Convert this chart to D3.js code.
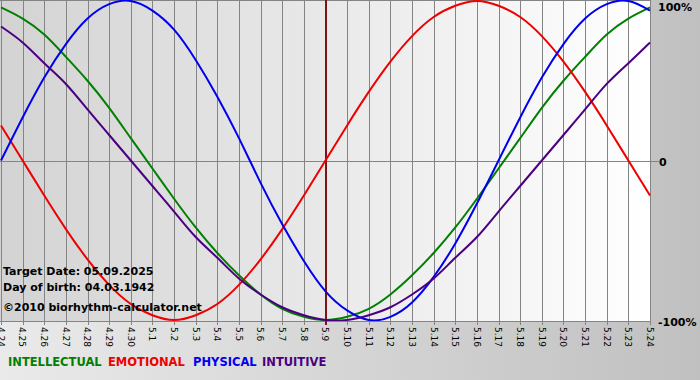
<!DOCTYPE html>
<html>
<head>
<meta charset="utf-8">
<script src="https://cdn.jsdelivr.net/npm/d3@7"></script>
<style>
  body { margin: 0; padding: 0; }
  svg { display: block; }
</style>
</head>
<body>
<svg id="chart" width="700" height="380"></svg>
<script>
// day labels, 4.24 .. 5.24
var days = ["4.24", "4.25", "4.26", "4.27", "4.28", "4.29", "4.30",
    "5.1", "5.2", "5.3", "5.4", "5.5", "5.6", "5.7", "5.8", "5.9", "5.10",
    "5.11", "5.12", "5.13", "5.14", "5.15", "5.16", "5.17", "5.18", "5.19",
    "5.20", "5.21", "5.22", "5.23", "5.24"];

// values, -1 .. 1
var intellectual = [0.96, 0.89, 0.79, 0.65, 0.50, 0.33, 0.14, -0.05, -0.24, -0.42, -0.58,
    -0.72, -0.84, -0.93, -0.98, -1.00, -0.98, -0.93, -0.84, -0.72, -0.58,
    -0.42, -0.24, -0.05, 0.14, 0.33, 0.50, 0.65, 0.79, 0.89, 0.96];
var emotional = [0.22, 0.00, -0.22, -0.43, -0.62, -0.78, -0.90, -0.97, -1.00, -0.97, -0.90,
    -0.78, -0.62, -0.43, -0.22, 0.00, 0.22, 0.43, 0.62, 0.78, 0.90,
    0.97, 1.00, 0.97, 0.90, 0.78, 0.62, 0.43, 0.22, 0.00, -0.22];
var physical = [0.00, 0.27, 0.52, 0.73, 0.89, 0.98, 1.00, 0.94, 0.82, 0.63, 0.40,
    0.14, -0.14, -0.40, -0.63, -0.82, -0.94, -1.00, -0.98, -0.89, -0.73,
    -0.52, -0.27, 0.00, 0.27, 0.52, 0.73, 0.89, 0.98, 1.00, 0.94];
var intuitive = [0.84, 0.74, 0.61, 0.48, 0.32, 0.16, 0.00, -0.16, -0.32, -0.48, -0.61,
    -0.74, -0.84, -0.92, -0.97, -1.00, -1.00, -0.97, -0.92, -0.84, -0.74,
    -0.61, -0.48, -0.32, -0.16, 0.00, 0.16, 0.32, 0.48, 0.61, 0.74];

var targetDay = "5.9";
var yTicks = [1, 0, -1];
var yTickLabels = ["100%", "0", "-100%"];

var series = [
    { name: "INTELLECTUAL", values: intellectual, color: "#008000", lx: 8 },
    { name: "EMOTIONAL", values: emotional, color: "#ee0000", lx: 108 },
    { name: "PHYSICAL", values: physical, color: "#0000ee", lx: 193 },
    { name: "INTUITIVE", values: intuitive, color: "#4b0082", lx: 262 }
];

var svg = d3.select("#chart");
var plotLeft = 0, plotRight = 651, plotTop = 0, plotBottom = 321;

var defs = svg.append("defs");
var bg = defs.append("linearGradient").attr("id", "bg").attr("x1", "0").attr("x2", "1").attr("y1", "0").attr("y2", "0");
bg.append("stop").attr("offset", "0").attr("stop-color", "#eaeaea");
bg.append("stop").attr("offset", "1").attr("stop-color", "#c0c0c0");
var pg = defs.append("linearGradient").attr("id", "pg").attr("x1", "0").attr("x2", "1").attr("y1", "0").attr("y2", "0");
pg.append("stop").attr("offset", "0").attr("stop-color", "#d3d3d3");
pg.append("stop").attr("offset", "1").attr("stop-color", "#ffffff");
defs.append("clipPath").attr("id", "clip")
    .append("rect").attr("x", plotLeft).attr("y", plotTop)
    .attr("width", plotRight - plotLeft).attr("height", plotBottom - plotTop);

svg.append("rect").attr("width", 700).attr("height", 380).attr("fill", "url(#bg)");
svg.append("rect").attr("x", plotLeft).attr("y", plotTop)
    .attr("width", plotRight - plotLeft).attr("height", plotBottom - plotTop)
    .attr("fill", "url(#pg)");

var x = d3.scalePoint().domain(days).range([1, 650]);
var y = d3.scaleLinear().domain([-1, 1]).range([320, 1]);

// vertical grid, one per day
svg.append("g").selectAll("line").data(days).enter().append("line")
    .attr("x1", function (d) { return Math.round(x(d)) + 0.5; })
    .attr("x2", function (d) { return Math.round(x(d)) + 0.5; })
    .attr("y1", plotTop)
    .attr("y2", plotBottom + 4)
    .attr("stroke", "#848484")
    .attr("stroke-width", 1);

// top border, zero line, bottom axis
svg.append("line").attr("x1", 0).attr("x2", plotRight).attr("y1", 0.5).attr("y2", 0.5).attr("stroke", "#848484");
svg.append("line").attr("x1", 0).attr("x2", plotRight + 8)
    .attr("y1", Math.round(y(0)) + 0.5).attr("y2", Math.round(y(0)) + 0.5).attr("stroke", "#848484");
svg.append("line").attr("x1", 0).attr("x2", plotRight)
    .attr("y1", plotBottom + 0.5).attr("y2", plotBottom + 0.5).attr("stroke", "#848484");

// target date
svg.append("line")
    .attr("x1", x(targetDay) + 0.5).attr("x2", x(targetDay) + 0.5)
    .attr("y1", 0).attr("y2", plotBottom + 4)
    .attr("stroke", "#7a1515").attr("stroke-width", 2);

var lineFunction = d3.line()
    .x(function (d, i) { return x(days[i]); })
    .y(function (d) { return y(d); })
    .curve(d3.curveNatural);

svg.append("g").attr("clip-path", "url(#clip)")
    .selectAll("path").data(series).enter().append("path")
    .attr("d", function (d) { return lineFunction(d.values); })
    .attr("fill", "none")
    .attr("stroke", function (d) { return d.color; })
    .attr("stroke-width", 2);

// day labels, rotated
svg.append("g").selectAll("text").data(days).enter().append("text")
    .attr("transform", function (d) { return "translate(" + x(d) + "," + (plotBottom + 6) + ") rotate(90)"; })
    .attr("dy", "0.35em")
    .attr("font-family", "DejaVu Sans")
    .attr("font-size", 9)
    .attr("fill", "#000")
    .text(function (d) { return d; });

// right labels
svg.append("g").selectAll("text").data(yTicks).enter().append("text")
    .attr("x", function (d, i) { return i == 1 ? 659 : 658; })
    .attr("y", function (d) { return Math.max(y(d) + 2, 7); })
    .attr("dy", "0.35em")
    .attr("font-family", "DejaVu Sans")
    .attr("font-weight", "bold")
    .attr("font-size", 11)
    .attr("fill", "#000")
    .text(function (d, i) { return yTickLabels[i]; });

// info text
var info = ["Target Date: 05.09.2025", "Day of birth: 04.03.1942", "\u00a92010 biorhythm-calculator.net"];
var infoY = [275, 291, 311];
svg.append("g").selectAll("text").data(info).enter().append("text")
    .attr("x", 3)
    .attr("y", function (d, i) { return infoY[i]; })
    .attr("font-family", "DejaVu Sans")
    .attr("font-weight", "bold")
    .attr("font-size", 11)
    .attr("fill", "#000")
    .text(function (d) { return d; });

// legend
svg.append("g").selectAll("text").data(series).enter().append("text")
    .attr("x", function (d) { return d.lx; })
    .attr("y", 366)
    .attr("font-family", "DejaVu Sans")
    .attr("font-weight", "bold")
    .attr("font-size", 11.5)
    .attr("fill", function (d) { return d.color; })
    .text(function (d) { return d.name; });
</script>
</body>
</html>
